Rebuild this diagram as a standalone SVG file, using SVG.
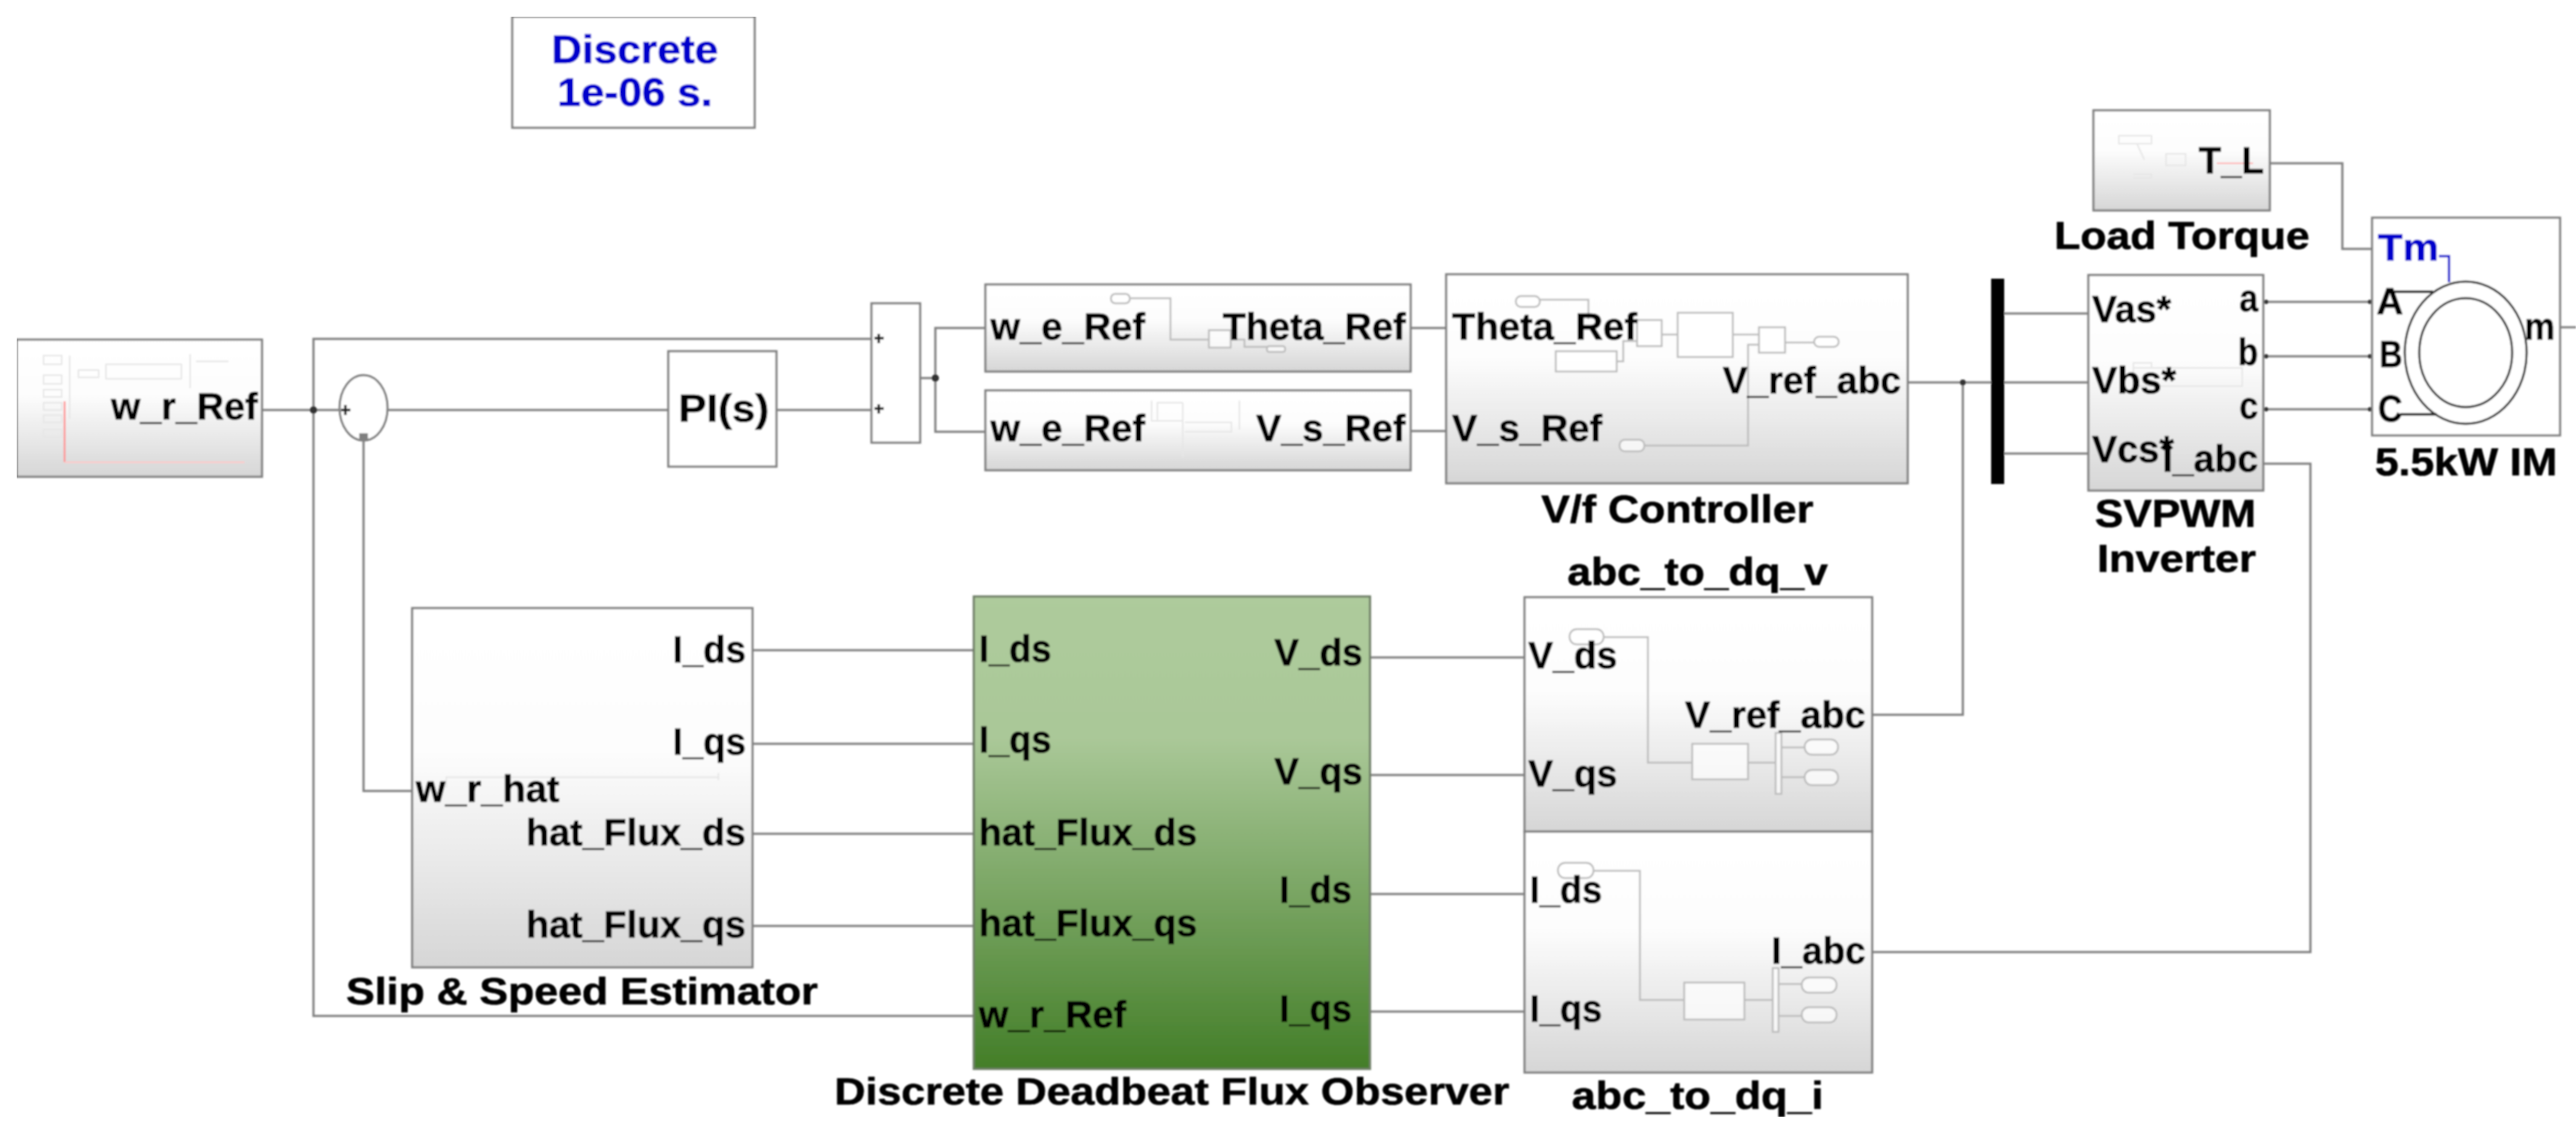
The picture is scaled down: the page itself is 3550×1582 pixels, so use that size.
<svg xmlns="http://www.w3.org/2000/svg" width="3550" height="1582" viewBox="0 0 3550 1582">
<style>
text{font-family:"Liberation Sans",Arial,sans-serif;font-weight:700;fill:#050505;stroke:#050505;stroke-width:.7;font-size:51px}
.blue{fill:#0000cc;stroke:#0000cc}
.big{font-size:53px}
.huge{font-size:55px}
.b{stroke:#808080;stroke-width:3}
.gray{fill:url(#g)}
.white{fill:#fff}
.green{fill:url(#gr);stroke:#6f7f68;stroke-width:3}
.w{fill:none;stroke:#808080;stroke-width:3}
.wb{fill:none;stroke:#0000cc;stroke-width:3}
.k{fill:none;stroke:#222;stroke-width:3.5}
.m{fill:#fff;fill-opacity:.7;stroke:#bdbdbd;stroke-width:2.5}
.ml{fill:none;stroke:#bdbdbd;stroke-width:2.5}
.f{fill:none;stroke:#e6e6e6;stroke-width:2}
.d{fill:#333}
</style>
<defs>
<linearGradient id="g" x1="0" y1="0" x2="0" y2="1"><stop offset="0" stop-color="#fff"/><stop offset=".4" stop-color="#fdfdfd"/><stop offset="1" stop-color="#d6d6d6"/></linearGradient>
<linearGradient id="gr" x1="0" y1="0" x2="0" y2="1"><stop offset="0" stop-color="#aecb9c"/><stop offset=".3" stop-color="#aac898"/><stop offset="1" stop-color="#437e28"/></linearGradient>
<filter id="soft" x="0" y="0" width="100%" height="100%"><feGaussianBlur stdDeviation="0.8"/></filter>
</defs>
<rect width="3550" height="1582" fill="#fff"/>
<g filter="url(#soft)">
<g id="connectors">
<path class="w" d="M361 565H468M534 565H921M1070 565H1201"/>
<path class="w" d="M1201 467H432V1400H1343"/>
<path class="w" d="M501 608V1090H568"/>
<path class="w" d="M1268 521H1289M1359 452H1289V595H1359"/>
<path class="w" d="M1944 452H1993M1944 594H1993"/>
<path class="w" d="M2629 527H2878M2705 527V985H2580"/>
<path class="w" d="M2762 432H2878M2762 625H2878"/>
<path class="w" d="M3119 416H3269M3119 491H3269M3119 564H3269"/>
<path class="w" d="M3119 639H3184V1312H2580"/>
<path class="w" d="M3128 225H3228V343H3269"/>
<path class="w" d="M3528 451H3550"/>
<path class="w" d="M1037 896H1343M1037 1025H1343M1037 1149H1343M1037 1276H1343"/>
<path class="w" d="M1888 906H2101M1888 1068H2101M1888 1232H2101M1888 1394H2101"/>
<circle class="d" cx="432" cy="565" r="5"/>
<circle class="d" cx="1289" cy="521" r="5"/>
<circle class="d" cx="2705" cy="527" r="4"/>
<circle class="d" cx="3123" cy="416" r="3"/>
<circle class="d" cx="3123" cy="491" r="3"/>
<circle class="d" cx="3123" cy="564" r="3"/>
<circle class="d" cx="3266" cy="416" r="3"/>
<circle class="d" cx="3266" cy="491" r="3"/>
<circle class="d" cx="3266" cy="564" r="3"/>
</g>
<g id="solver">
<rect class="white b" x="706" y="23" width="334" height="153"/>
<text class="blue huge" x="760" y="87" textLength="230" lengthAdjust="spacingAndGlyphs">Discrete</text>
<text class="blue huge" x="768" y="146" textLength="214" lengthAdjust="spacingAndGlyphs">1e-06 s.</text>
</g>
<g id="speed-reference">
<rect class="gray b" x="23" y="468" width="338" height="189"/>
<path class="f" d="M60 490h25v12h-25zM60 517h25v12h-25zM60 537h25v10h-25zM60 555h25v10h-25zM60 572h25v10h-25zM60 592h25v10h-25zM96 490V577M146 502H250V522H146zM262 488V535M270 498H315M108 510h28v10h-28z"/>
<path fill="none" stroke="#ff8f8f" stroke-width="2.5" d="M89 553V637"/>
<path fill="none" stroke="#ffc8c8" stroke-width="2" d="M89 637H337"/>
<text x="153" y="578" textLength="202" lengthAdjust="spacingAndGlyphs">w_r_Ref</text>
</g>
<g id="speed-sum">
<ellipse class="white b" cx="501" cy="562" rx="33" ry="45"/>
<path class="k" d="M470 565h13M476 558v14"/>
<rect x="495" y="597" width="12" height="9" fill="#808080"/>
</g>
<g id="pi-controller">
<rect class="white b" x="921" y="484" width="149" height="159"/>
<text class="big" x="935" y="581" textLength="125" lengthAdjust="spacingAndGlyphs">PI(s)</text>
</g>
<g id="adder">
<rect class="white b" x="1201" y="418" width="67" height="192"/>
<path class="k" d="M1205 466h13M1211 460v13M1205 563h13M1211 557v13"/>
</g>
<g id="theta-block">
<rect class="gray b" x="1358" y="392" width="586" height="120"/>
<rect class="m" x="1531" y="405" width="26" height="13" rx="6"/>
<path class="ml" d="M1557 411H1613V468H1666M1696 468H1715V478H1746"/>
<rect class="m" x="1666" y="455" width="30" height="24"/>
<rect class="m" x="1746" y="477" width="25" height="8" rx="3"/>
<text x="1365" y="468" textLength="213" lengthAdjust="spacingAndGlyphs">w_e_Ref</text>
<text x="1685" y="468" textLength="252" lengthAdjust="spacingAndGlyphs">Theta_Ref</text>
</g>
<g id="vs-block">
<rect class="gray b" x="1358" y="538" width="586" height="110"/>
<path class="f" d="M1587 552V580H1630M1630 555H1595V580M1630 555V630M1633 582H1697V595H1633M1708 552V592"/>
<text x="1365" y="608" textLength="213" lengthAdjust="spacingAndGlyphs">w_e_Ref</text>
<text x="1731" y="608" textLength="206" lengthAdjust="spacingAndGlyphs">V_s_Ref</text>
</g>
<g id="vf-controller">
<rect class="gray b" x="1993" y="378" width="636" height="288"/>
<path class="ml" d="M2122 413H2189V440M2228 498H2237V470H2256M2290 461H2312M2388 461H2424M2460 472H2500M2266 614H2409V475H2424"/>
<rect class="m" x="2089" y="408" width="33" height="15" rx="7"/>
<rect class="m" x="2256" y="441" width="34" height="36"/>
<rect class="m" x="2144" y="484" width="84" height="28"/>
<rect class="m" x="2312" y="431" width="76" height="61"/>
<rect class="m" x="2424" y="451" width="36" height="35"/>
<rect class="m" x="2500" y="464" width="34" height="14" rx="7"/>
<rect class="m" x="2232" y="606" width="34" height="16" rx="7"/>
<text x="2001" y="468" textLength="255" lengthAdjust="spacingAndGlyphs">Theta_Ref</text>
<text x="2001" y="608" textLength="207" lengthAdjust="spacingAndGlyphs">V_s_Ref</text>
<text x="2374" y="542" textLength="246" lengthAdjust="spacingAndGlyphs">V_ref_abc</text>
<text class="big" x="2124" y="720" textLength="375" lengthAdjust="spacingAndGlyphs">V/f Controller</text>
</g>
<g id="mux-bar"><rect x="2744" y="384" width="18" height="283" fill="#000"/></g>
<g id="svpwm-inverter">
<rect class="gray b" x="2878" y="379" width="241" height="297"/>
<path class="f" d="M2940 507H3090V532H2940zM2940 507V500H2965V507"/>
<text x="2883" y="444" textLength="109" lengthAdjust="spacingAndGlyphs">Vas*</text>
<text x="2883" y="542" textLength="116" lengthAdjust="spacingAndGlyphs">Vbs*</text>
<text x="2883" y="637" textLength="113" lengthAdjust="spacingAndGlyphs">Vcs*</text>
<text x="3086" y="429" textLength="26" lengthAdjust="spacingAndGlyphs">a</text>
<text x="3084" y="503" textLength="28" lengthAdjust="spacingAndGlyphs">b</text>
<text x="3086" y="577" textLength="26" lengthAdjust="spacingAndGlyphs">c</text>
<text x="2980" y="650" textLength="132" lengthAdjust="spacingAndGlyphs">I_abc</text>
<text class="big" x="2887" y="726" textLength="222" lengthAdjust="spacingAndGlyphs">SVPWM</text>
<text class="big" x="2890" y="788" textLength="219" lengthAdjust="spacingAndGlyphs">Inverter</text>
</g>
<g id="load-torque">
<rect class="gray b" x="2885" y="152" width="243" height="138"/>
<path class="f" d="M2920 187H2965V198H2920zM2945 198L2955 220M2940 240H2965V245H2940M3012 212H2985V228H3012z"/>
<path fill="none" stroke="#ffb0b0" stroke-width="2" d="M3055 225H3105"/>
<text x="3030" y="239" textLength="90" lengthAdjust="spacingAndGlyphs">T_L</text>
<text class="big" x="2831" y="343" textLength="352" lengthAdjust="spacingAndGlyphs">Load Torque</text>
</g>
<g id="induction-motor">
<rect class="white b" x="3269" y="300" width="259" height="300"/>
<path class="wb" d="M3361 353H3375V389"/>
<path class="k" d="M3294 402H3353M3308 571H3358"/>
<ellipse cx="3398" cy="486" rx="84" ry="98" fill="none" stroke="#333" stroke-width="3"/>
<ellipse cx="3398" cy="486" rx="64" ry="75" fill="none" stroke="#333" stroke-width="3"/>
<text class="blue" x="3277" y="359" textLength="84" lengthAdjust="spacingAndGlyphs">Tm</text>
<text x="3275" y="433" textLength="37" lengthAdjust="spacingAndGlyphs">A</text>
<text x="3279" y="506" textLength="32" lengthAdjust="spacingAndGlyphs">B</text>
<text x="3277" y="581" textLength="34" lengthAdjust="spacingAndGlyphs">C</text>
<text x="3479" y="468" textLength="42" lengthAdjust="spacingAndGlyphs">m</text>
<text class="big" x="3273" y="655" textLength="251" lengthAdjust="spacingAndGlyphs">5.5kW IM</text>
</g>
<g id="slip-speed-estimator">
<rect class="gray b" x="568" y="838" width="469" height="495"/>
<path class="f" d="M614 1071H990M615 1070V1085M990 1065V1075"/>
<text x="927" y="913" textLength="101" lengthAdjust="spacingAndGlyphs">I_ds</text>
<text x="927" y="1040" textLength="101" lengthAdjust="spacingAndGlyphs">I_qs</text>
<text x="573" y="1105" textLength="198" lengthAdjust="spacingAndGlyphs">w_r_hat</text>
<text x="725" y="1165" textLength="303" lengthAdjust="spacingAndGlyphs">hat_Flux_ds</text>
<text x="725" y="1292" textLength="303" lengthAdjust="spacingAndGlyphs">hat_Flux_qs</text>
<text x="477" y="1384" textLength="650" lengthAdjust="spacingAndGlyphs">Slip &amp; Speed Estimator</text>
</g>
<g id="flux-observer">
<rect class="green" x="1342" y="822" width="546" height="651"/>
<text x="1349" y="912" textLength="100" lengthAdjust="spacingAndGlyphs">I_ds</text>
<text x="1349" y="1037" textLength="100" lengthAdjust="spacingAndGlyphs">I_qs</text>
<text x="1349" y="1165" textLength="301" lengthAdjust="spacingAndGlyphs">hat_Flux_ds</text>
<text x="1349" y="1290" textLength="301" lengthAdjust="spacingAndGlyphs">hat_Flux_qs</text>
<text x="1349" y="1416" textLength="203" lengthAdjust="spacingAndGlyphs">w_r_Ref</text>
<text x="1756" y="917" textLength="122" lengthAdjust="spacingAndGlyphs">V_ds</text>
<text x="1756" y="1081" textLength="122" lengthAdjust="spacingAndGlyphs">V_qs</text>
<text x="1763" y="1244" textLength="100" lengthAdjust="spacingAndGlyphs">I_ds</text>
<text x="1763" y="1408" textLength="100" lengthAdjust="spacingAndGlyphs">I_qs</text>
<text x="1150" y="1522" textLength="930" lengthAdjust="spacingAndGlyphs">Discrete Deadbeat Flux Observer</text>
</g>
<g id="abc-to-dq-v">
<rect class="gray b" x="2101" y="823" width="479" height="323"/>
<path class="ml" d="M2210 878H2271V1051H2332M2409 1051H2447M2455 1030H2487M2455 1071H2487"/>
<rect class="m" x="2163" y="867" width="47" height="21" rx="10"/>
<rect class="m" x="2332" y="1025" width="77" height="49"/>
<rect class="m" x="2447" y="1010" width="8" height="84"/>
<rect class="m" x="2487" y="1019" width="46" height="21" rx="10"/>
<rect class="m" x="2487" y="1061" width="46" height="21" rx="10"/>
<text x="2106" y="921" textLength="123" lengthAdjust="spacingAndGlyphs">V_ds</text>
<text x="2106" y="1084" textLength="123" lengthAdjust="spacingAndGlyphs">V_qs</text>
<text x="2322" y="1003" textLength="249" lengthAdjust="spacingAndGlyphs">V_ref_abc</text>
<text class="big" x="2160" y="806" textLength="359" lengthAdjust="spacingAndGlyphs">abc_to_dq_v</text>
</g>
<g id="abc-to-dq-i">
<rect class="gray b" x="2101" y="1146" width="479" height="332"/>
<path class="ml" d="M2196 1200H2260V1378H2321M2404 1378H2443M2450 1356H2483M2450 1400H2483"/>
<rect class="m" x="2147" y="1189" width="49" height="21" rx="10"/>
<rect class="m" x="2321" y="1354" width="83" height="51"/>
<rect class="m" x="2443" y="1334" width="8" height="88"/>
<rect class="m" x="2483" y="1347" width="48" height="21" rx="10"/>
<rect class="m" x="2483" y="1388" width="48" height="21" rx="10"/>
<text x="2108" y="1244" textLength="100" lengthAdjust="spacingAndGlyphs">I_ds</text>
<text x="2108" y="1408" textLength="100" lengthAdjust="spacingAndGlyphs">I_qs</text>
<text x="2441" y="1328" textLength="130" lengthAdjust="spacingAndGlyphs">I_abc</text>
<text class="big" x="2166" y="1528" textLength="347" lengthAdjust="spacingAndGlyphs">abc_to_dq_i</text>
</g>
</g>
</svg>
